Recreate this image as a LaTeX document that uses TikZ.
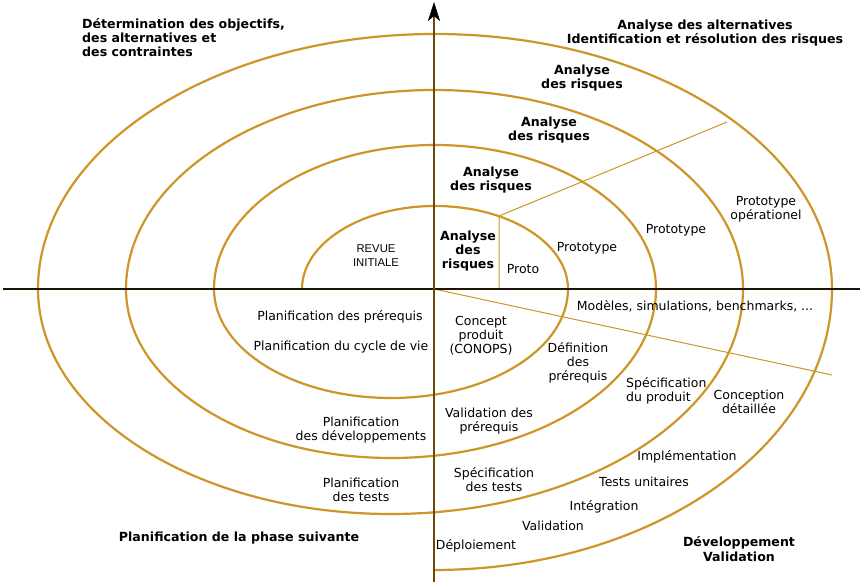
\documentclass[tikz,border=0pt]{standalone}
\usepackage{fontspec}
\setmainfont{DejaVu Sans}
\newfontfamily\revuefont{Liberation Sans}
\usetikzlibrary{arrows.meta}
\definecolor{spiral}{RGB}{206,150,40}
\definecolor{axisv}{RGB}{110,72,10}
\definecolor{axish}{RGB}{30,20,5}
\tikzset{
  lbl/.style={font=\fontsize{12.5}{14}\selectfont, align=center, inner sep=0pt},
  blbl/.style={lbl, font=\fontsize{12.6}{14.3}\selectfont\bfseries},
  spiralline/.style={draw=spiral, line width=2.2pt},
  thinline/.style={draw=spiral, line width=1pt},
}
\begin{document}
\begin{tikzpicture}[x=1pt,y=-1pt]
\path[fill=white, use as bounding box] (0,0) rectangle (860,585);

% spiral
\draw[spiralline] (302,289)
  arc[start angle=180,end angle=360,x radius=133,y radius=83]
  arc[start angle=0,end angle=180,x radius=177,y radius=109]
  arc[start angle=180,end angle=360,x radius=221,y radius=144]
  arc[start angle=0,end angle=180,x radius=265,y radius=169]
  arc[start angle=180,end angle=360,x radius=308.5,y radius=199]
  arc[start angle=0,end angle=180,x radius=352.5,y radius=225]
  arc[start angle=180,end angle=360,x radius=397,y radius=255]
  arc[start angle=0,end angle=90,x radius=398,y radius=281];

% dividing lines
\coordinate (pA) at (499,289);
\coordinate (pB) at (499,216);
\coordinate (pC) at (727,122);
\coordinate (o) at (434,289);
\coordinate (pD) at (832,375);
\draw[thinline] (pA) -- (pB) -- (pC);
\draw[thinline] (o) -- (pD);

% axes
\coordinate (hl) at (3,289);
\coordinate (hr) at (860,289);
\coordinate (vb) at (434,582);
\coordinate (vt) at (434,2);
\draw[axish, line width=1.6pt] (hl) -- (hr);
\draw[axisv, line width=1.6pt, -{Stealth[length=19pt,width=12pt,inset=5pt,color=black,fill=black,line width=0.5pt]}] (vb) -- (vt);

% labels
\node[blbl, align=left, anchor=west] (det) at (82,37.5) {Détermination des objectifs,\\des alternatives et\\des contraintes};
\node[blbl] (alt) at (705,33) {Analyse des alternatives\\Identification et résolution des risques};
\node[blbl] (ar4) at (582,78) {Analyse\\des risques};
\node[blbl] (ar3) at (549,130) {Analyse\\des risques};
\node[blbl] (ar2) at (491,180) {Analyse\\des risques};
\node[blbl] (ar1) at (468,251) {Analyse\\des\\risques};
\node[lbl] (proto) at (523,269) {Proto};
\node[lbl] (proto1) at (587,248) {Prototype};
\node[lbl] (proto2) at (676,230) {Prototype};
\node[lbl] (protoop) at (766,209) {Prototype\\opérationel};
\node[lbl, font=\fontsize{11.3}{14}\selectfont\revuefont] (revue) at (376,256) {REVUE\\INITIALE};
\node[lbl] (mod) at (695,306) {Modèles, simulations, benchmarks, ...};
\node[lbl] (conops) at (481,336) {Concept\\produit\\(CONOPS)};
\node[lbl] (defpre) at (578,363) {Définition\\des\\prérequis};
\node[lbl, align=left, anchor=west] (specprod) at (626,391) {Spécification\\du produit};
\node[lbl] (concdet) at (749,402) {Conception\\détaillée};
\node[lbl] (valpre) at (489,421) {Validation des\\prérequis};
\node[lbl] (impl) at (687,457) {Implémentation};
\node[lbl] (tu) at (644,482) {Tests unitaires};
\node[lbl] (spectests) at (494,480) {Spécification\\des tests};
\node[lbl] (integ) at (604,507) {Intégration};
\node[lbl] (valid) at (553,526) {Validation};
\node[lbl] (deploi) at (476,546) {Déploiement};
\node[blbl] (devval) at (739,549) {Développement\\Validation};
\node[blbl] (phase) at (239,538) {Planification de la phase suivante};
\node[lbl] (planpre) at (340,317) {Planification des prérequis};
\node[lbl] (plancyc) at (341,347) {Planification du cycle de vie};
\node[lbl] (plandev) at (361,430) {Planification\\des développements};
\node[lbl] (plantest) at (361,490) {Planification\\des tests};
\end{tikzpicture}
\end{document}
